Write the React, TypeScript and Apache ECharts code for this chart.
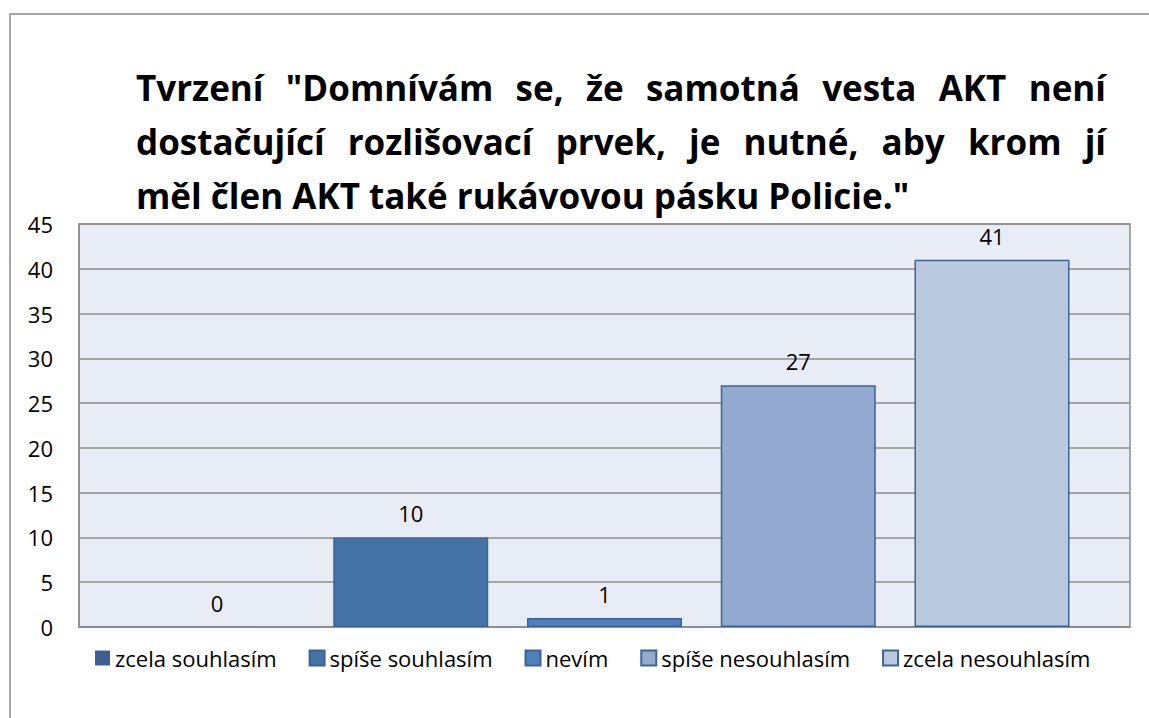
import React, { useEffect, useRef } from "react";
import * as echarts from "echarts";

const titleLines = [
  'Tvrzení "Domnívám se, že samotná vesta AKT není',
  "dostačující rozlišovací prvek, je nutné, aby krom jí",
  'měl člen AKT také rukávovou pásku Policie."',
];
const justifiedLines = [true, true, false];
const category = ["Tvrzení"];
const seriesNames = [
  "zcela souhlasím",
  "spíše souhlasím",
  "nevím",
  "spíše nesouhlasím",
  "zcela nesouhlasím",
];
const seriesValues = [0, 10, 1, 27, 41];
const seriesColors = ["#3b6091", "#4572a7", "#4f80bd", "#94a9d0", "#bac8e0"];
const yTicks = { min: 0, max: 45, interval: 5 };

const FONT = "Open Sans";
const TITLE_SIZE = 35;
const TITLE_LEFT = 136;
const TITLE_RIGHT = 1106;
const TITLE_TOP_CENTER = 87;
const TITLE_LINE_H = 54;

function buildTitle(): any[] {
  const canvas = document.createElement("canvas");
  const ctx = canvas.getContext("2d")!;
  const fontStr = `bold ${TITLE_SIZE}px "${FONT}"`;
  ctx.font = fontStr;
  const els: any[] = [];
  titleLines.forEach((line, li) => {
    const y = TITLE_TOP_CENTER + li * TITLE_LINE_H;
    const words = line.split(" ");
    if (!justifiedLines[li] || words.length < 2) {
      els.push({
        type: "text",
        x: TITLE_LEFT,
        y,
        style: {
          text: line,
          font: fontStr,
          fill: "#000000",
          textAlign: "left",
          textVerticalAlign: "middle",
        },
      });
      return;
    }
    const widths = words.map((w) => ctx.measureText(w).width);
    const total = widths.reduce((a, b) => a + b, 0);
    const gap = (TITLE_RIGHT - TITLE_LEFT - total) / (words.length - 1);
    let x = TITLE_LEFT;
    words.forEach((w, wi) => {
      els.push({
        type: "text",
        x,
        y,
        style: {
          text: w,
          font: fontStr,
          fill: "#000000",
          textAlign: "left",
          textVerticalAlign: "middle",
        },
      });
      x += widths[wi] + gap;
    });
  });
  return els;
}

export default function App() {
  const ref = useRef<HTMLDivElement>(null);
  useEffect(() => {
    if (!ref.current) return;
    const chart = echarts.init(ref.current, null, { renderer: "svg" });
    chart.setOption({
      animation: false,
      backgroundColor: "#ffffff",
      graphic: [
        {
          type: "rect",
          shape: { x: 10, y: 14, width: 1160, height: 740 },
          style: { fill: "none", stroke: "#a6a6a6", lineWidth: 2 },
          silent: true,
        },
        ...buildTitle(),
      ],
      legend: {
        top: 642,
        left: 90,
        icon: "rect",
        itemWidth: 15,
        itemHeight: 15,
        itemGap: 32,
        textStyle: { fontFamily: FONT, fontSize: 22, color: "#000000" },
        data: seriesNames,
      },
      grid: {
        left: 79,
        top: 224,
        right: 19,
        bottom: 91,
        show: true,
        backgroundColor: "#e8ecf4",
        borderColor: "#8c8c8c",
        borderWidth: 1.5,
      },
      xAxis: {
        type: "category",
        data: category,
        axisLabel: { show: false },
        axisTick: { show: false },
        axisLine: { lineStyle: { color: "#8c8c8c", width: 1.5 } },
      },
      yAxis: {
        type: "value",
        min: yTicks.min,
        max: yTicks.max,
        interval: yTicks.interval,
        axisLabel: {
          fontFamily: FONT,
          fontSize: 22,
          color: "#000000",
          margin: 26,
        },
        axisLine: { show: true, lineStyle: { color: "#8c8c8c", width: 1.5 } },
        axisTick: { show: false },
        splitLine: { lineStyle: { color: "#8c8c8c", width: 1.5 } },
      },
      series: seriesNames.map((name, i) => ({
        name,
        type: "bar",
        data: [seriesValues[i]],
        barWidth: 155,
        barGap: "25%",
        itemStyle: {
          color: seriesColors[i],
          borderColor: "#3d6494",
          borderWidth: seriesValues[i] === 0 ? 0 : 1.5,
        },
        label: {
          show: true,
          position: "top",
          distance: 13,
          fontFamily: FONT,
          fontSize: 22,
          color: "#000000",
        },
      })),
    });
    return () => chart.dispose();
  }, []);
  return (
    <div
      ref={ref}
      style={{ position: "fixed", left: 0, top: 0, width: 1149, height: 718 }}
    />
  );
}
